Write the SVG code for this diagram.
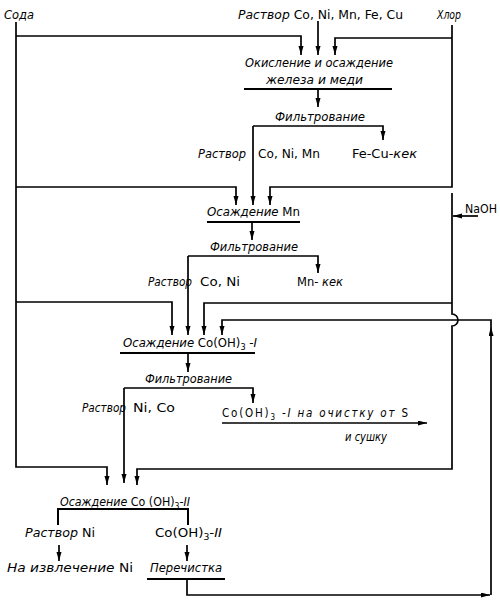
<svg xmlns="http://www.w3.org/2000/svg" width="500" height="601" viewBox="0 0 500 601">
<defs>
<style>
text{font-family:"DejaVu Sans Condensed","Liberation Sans",sans-serif;font-size:11.5px;font-style:italic;fill:#000}
.r{font-style:normal}
.ln{fill:none;stroke:#000;stroke-width:1.7}
.ul{fill:none;stroke:#000;stroke-width:2}
.a{marker-end:url(#ah)}
</style>
<marker id="ah" markerUnits="userSpaceOnUse" markerWidth="10" markerHeight="6" refX="9" refY="2.5" orient="auto"><path d="M0,0 L9,2.5 L0,5 z" fill="#000"/></marker>
</defs>
<rect width="500" height="601" fill="#fff"/>
<g id="connectors">
<path class="ln a" d="M16,22 V467 H107 V485"/>
<path class="ln a" d="M16,36 H301 V55"/>
<path class="ln a" d="M318,21 V55"/>
<path class="ln a" d="M452,25 V187 H270 V205"/>
<path class="ln a" d="M452,38 H335 V55"/>
<path class="ul" d="M244,89 H392"/>
<path class="ln a" d="M318,89 V107"/>
<path class="ln a" d="M253,126 H383 V140"/>
<path class="ln a" d="M253,126 V205"/>
<path class="ln a" d="M16,187 H236 V205"/>
<path class="ul" d="M207,222 H300"/>
<path class="ln a" d="M252,222 V240"/>
<path class="ln a" d="M188,256 H318 V273"/>
<path class="ln a" d="M188,256 V335"/>
<path class="ln a" d="M16,302 H172 V335"/>
<path class="ln a" d="M452,193 V314 A6,6 0 0 1 452,326 V469 H137 V485"/>
<path class="ln a" d="M452,303 H204 V335"/>
<path class="ln a" d="M478,216 H453"/>
<path class="ul" d="M120,353 H255"/>
<path class="ln a" d="M188,353 V372"/>
<path class="ln a" d="M124,388 H253 V403"/>
<path class="ln a" d="M124,388 V483"/>
<path class="ln a" d="M222,423 H427"/>
<path class="ul" d="M58,525 V509 H188 V525"/>
<path class="ln a" d="M59,545 V561"/>
<path class="ln a" d="M187,545 V561"/>
<path class="ul" d="M147,579 H225"/>
<path class="ln a" d="M187,579 V595 H490"/>
<path class="ln a" d="M491,595 V327"/>
<path class="ln a" d="M491,327 V320 H222 V335"/>
</g>
<g id="soda"><text x="4" y="19" textLength="30" lengthAdjust="spacingAndGlyphs">Сода</text></g>
<g id="feed"><text x="238" y="19" textLength="165" lengthAdjust="spacingAndGlyphs">Раствор <tspan class="r">Co, Ni, Mn, Fe, Cu</tspan></text></g>
<g id="chlor"><text x="437" y="19" textLength="24" lengthAdjust="spacingAndGlyphs">Хлор</text></g>
<g id="oxid">
<text x="245" y="67" textLength="148" lengthAdjust="spacingAndGlyphs">Окисление и осаждение</text>
<text x="266" y="84" textLength="97" lengthAdjust="spacingAndGlyphs">железа и меди</text>
</g>
<g id="filt1"><text x="275" y="121" textLength="90" lengthAdjust="spacingAndGlyphs">Фильтрование</text></g>
<g id="sol1"><text x="198" y="158" textLength="48" lengthAdjust="spacingAndGlyphs">Раствор</text><text class="r" x="258" y="158" textLength="62" lengthAdjust="spacingAndGlyphs">Co, Ni, Mn</text></g>
<g id="fecu"><text x="352" y="158" textLength="65" lengthAdjust="spacingAndGlyphs"><tspan class="r">Fe-Cu-</tspan>кек</text></g>
<g id="naoh"><text class="r" x="465" y="213" textLength="32" lengthAdjust="spacingAndGlyphs">NaOH</text></g>
<g id="mnprec"><text x="207" y="216" textLength="93" lengthAdjust="spacingAndGlyphs">Осаждение <tspan class="r">Mn</tspan></text></g>
<g id="filt2"><text x="210" y="251" textLength="88" lengthAdjust="spacingAndGlyphs">Фильтрование</text></g>
<g id="sol2"><text x="148" y="286" textLength="44" lengthAdjust="spacingAndGlyphs">Раствор</text><text class="r" x="200" y="286" textLength="40" lengthAdjust="spacingAndGlyphs">Co, Ni</text></g>
<g id="mncake"><text x="297" y="286" textLength="46" lengthAdjust="spacingAndGlyphs"><tspan class="r">Mn-</tspan> кек</text></g>
<g id="co1"><text x="123" y="347" textLength="134" lengthAdjust="spacingAndGlyphs">Осаждение <tspan class="r">Co(OH)</tspan><tspan class="r" font-size="8" dy="3">3</tspan><tspan dy="-3"> -I</tspan></text></g>
<g id="filt3"><text x="145" y="383" textLength="87" lengthAdjust="spacingAndGlyphs">Фильтрование</text></g>
<g id="sol3"><text x="82" y="412" textLength="44" lengthAdjust="spacingAndGlyphs">Раствор</text><text class="r" x="133" y="412" textLength="42" lengthAdjust="spacingAndGlyphs">Ni, Co</text></g>
<g id="co1out">
<text x="222" y="417" textLength="186" lengthAdjust="spacing"><tspan class="r">Co(OH)</tspan><tspan class="r" font-size="8" dy="3">3</tspan><tspan dy="-3"> -I  на  очистку  от  </tspan><tspan class="r">S</tspan></text>
<text x="345" y="441" textLength="42" lengthAdjust="spacingAndGlyphs">и сушку</text>
</g>
<g id="co2"><text x="60" y="506" textLength="130" lengthAdjust="spacingAndGlyphs">Осаждение <tspan class="r">Co (OH)</tspan><tspan class="r" font-size="8" dy="3">3</tspan><tspan dy="-3">-II</tspan></text></g>
<g id="sol4"><text x="25" y="537" textLength="70" lengthAdjust="spacingAndGlyphs">Раствор <tspan class="r">Ni</tspan></text></g>
<g id="co2out"><text x="155" y="537" textLength="67" lengthAdjust="spacingAndGlyphs"><tspan class="r">Co(OH)</tspan><tspan class="r" font-size="8" dy="3">3</tspan><tspan dy="-3">-II</tspan></text></g>
<g id="niout"><text x="7" y="572" textLength="126" lengthAdjust="spacingAndGlyphs">На извлечение <tspan class="r">Ni</tspan></text></g>
<g id="repur"><text x="150" y="572" textLength="72" lengthAdjust="spacingAndGlyphs">Перечистка</text></g>
</svg>
